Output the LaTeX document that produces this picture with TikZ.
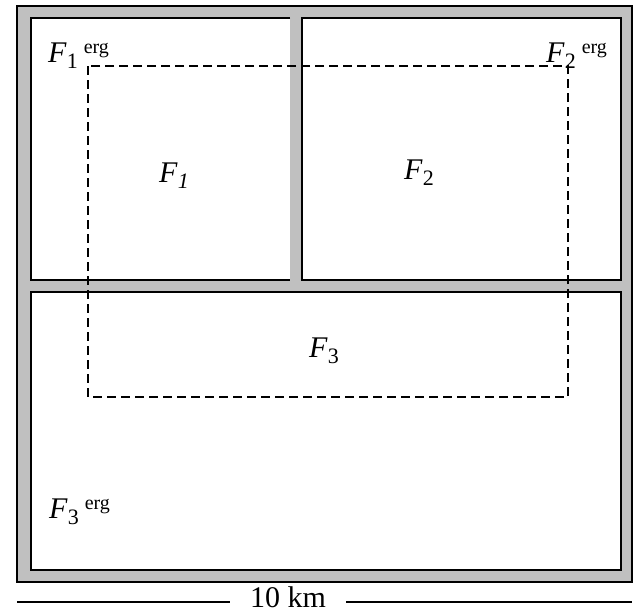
\documentclass[tikz,border=0pt]{standalone}
\usepackage{fontspec}
\setmainfont{Liberation Serif}

\definecolor{framegray}{RGB}{192,192,192}

% F with a subscript, and the same with an "erg" mark
\newcommand{\fsub}[1]{\textit{F}\raisebox{-6pt}{\fontsize{22}{22}\selectfont #1}}
\newcommand{\ferg}[1]{\fsub{#1}\hspace{6pt}\raisebox{9pt}{\fontsize{20}{20}\selectfont erg}}

\begin{document}
\begin{tikzpicture}[x=1pt, y=-1pt,
    wall/.style={line width=1.8pt},
    zone/.style={dash pattern=on 9pt off 5pt, line width=1.4pt},
    lbl/.style={anchor=base west, inner sep=0pt, font=\fontsize{30}{30}\selectfont}]

  \useasboundingbox (0,0) rectangle (640,613);

  % outer frame
  \fill[framegray] (17,6) rectangle (632,582);
  \draw[wall] (17,6) rectangle (632,582);

  % rooms
  \fill[white] (31,18) rectangle (290,280);
  \draw[wall] (290,18) -- (31,18) -- (31,280) -- (290,280);
  \filldraw[wall, fill=white] (302,18) rectangle (621,280);
  \filldraw[wall, fill=white] (31,292) rectangle (621,570);

  % dashed zone
  \draw[zone] (88,66) rectangle (568,397);

  % labels
  \node[lbl] (f1erg) at (48,62)  {\ferg{1}};
  \node[lbl] (f2erg) at (546,62) {\ferg{2}};
  \node[lbl] (f3erg) at (49,518) {\ferg{3}};
  \node[lbl] (f1) at (159,182) {\fsub{\textit{1}}};
  \node[lbl] (f2) at (404,179) {\fsub{2}};
  \node[lbl] (f3) at (309,357) {\fsub{3}};

  % scale bar
  \node[anchor=base, inner xsep=20pt, inner ysep=0pt,
        font=\fontsize{30}{30}\selectfont] (km) at (288,607) {10 km};
  \coordinate (barL) at (17,602);
  \coordinate (barR) at (632,602);
  \draw[line width=1.8pt] (barL) -- (barL -| km.west);
  \draw[line width=1.8pt] (barR -| km.east) -- (barR);
\end{tikzpicture}
\end{document}
